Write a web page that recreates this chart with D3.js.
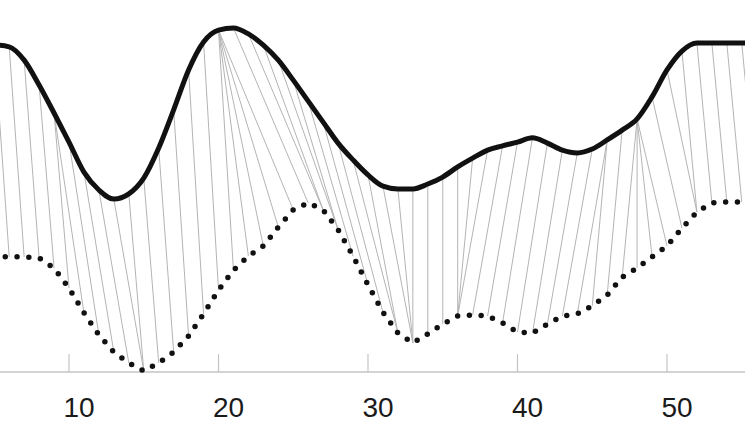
<!DOCTYPE html>
<html>
<head>
<meta charset="utf-8">
<script src="https://cdn.jsdelivr.net/npm/d3@7"></script>
<style>
  html, body { margin: 0; padding: 0; background: #fff; }
  svg { display: block; }
</style>
</head>
<body>
<svg id="chart" width="745" height="433"></svg>
<script>
// Time index (shared by both series)
const timeIndex = d3.range(1, 57);

// Upper series (solid line)
const upperValues = [
  9.34, 9.34, 9.34, 9.34, 9.34, 9.29, 8.91, 8.20, 7.40, 6.57,
  5.71, 5.20, 4.94, 5.09, 5.54, 6.40, 7.49, 8.63, 9.43, 9.77,
  9.83, 9.66, 9.34, 8.91, 8.34, 7.74, 7.14, 6.54, 6.06, 5.63,
  5.31, 5.23, 5.23, 5.37, 5.57, 5.86, 6.11, 6.34, 6.46, 6.57,
  6.69, 6.54, 6.34, 6.26, 6.37, 6.63, 6.91, 7.23, 7.86, 8.63,
  9.17, 9.40, 9.40, 9.40, 9.40, 9.40
];

// Lower series (dotted line)
const lowerValues = [
  3.29, 3.29, 3.29, 3.29, 3.29, 3.29, 3.29, 3.26, 2.97, 2.40,
  1.69, 1.06, 0.57, 0.26, 0.03, 0.26, 0.57, 1.03, 1.66, 2.34,
  2.91, 3.31, 3.60, 4.14, 4.63, 4.83, 4.63, 4.06, 3.31, 2.49,
  1.71, 1.11, 0.83, 1.09, 1.37, 1.60, 1.63, 1.60, 1.40, 1.14,
  1.11, 1.37, 1.60, 1.66, 1.89, 2.20, 2.71, 2.97, 3.29, 3.60,
  4.11, 4.57, 4.83, 4.86, 4.86, 4.86
];

// Warping path: matched index of upper series and of lower series
const pathUpper = [1,2,3,4,5,5,6,7,8,9,9,10,11,12,13,14,15,16,17,18,19,20,20,20,20,20,21,22,23,24,25,26,27,28,29,30,31,32,33,34,35,36,37,38,39,40,41,42,43,44,45,46,46,47,48,48,48,48,49,50,51,52,53,54,55,56];
const pathLower = [1,2,3,4,5,6,7,8,9,10,11,12,13,14,15,15,16,17,18,19,20,21,22,23,24,25,26,27,27,28,28,29,30,31,32,32,33,33,33,34,35,36,36,36,37,38,39,40,41,42,43,44,45,46,47,48,49,50,51,52,52,53,54,55,56,56];

// Axis ticks
const tickValues = [10, 20, 30, 40, 50];

const svg = d3.select("#chart");
const x = d3.scaleLinear().domain([10, 50]).range([69, 667]);
const y = d3.scaleLinear().domain([0, 10]).range([372, 22]);

const upper = timeIndex.map((t, i) => ({ t, v: upperValues[i] }));
const lower = timeIndex.map((t, i) => ({ t, v: lowerValues[i] }));

// Matching lines
svg.append("g")
  .selectAll("line")
  .data(pathUpper.map((u, k) => [u - 1, pathLower[k] - 1]))
  .join("line")
  .attr("x1", d => x(upper[d[0]].t))
  .attr("y1", d => y(upper[d[0]].v))
  .attr("x2", d => x(lower[d[1]].t))
  .attr("y2", d => y(lower[d[1]].v))
  .attr("stroke", "#b4b4b4")
  .attr("stroke-width", 1);

// Axis
const fmt = d3.format("d");
const gAxis = svg.append("g").attr("transform", "translate(0,372)");
gAxis.append("line")
  .attr("x1", 0).attr("x2", 745)
  .attr("stroke", "#a8a8a8").attr("stroke-width", 1.2);
gAxis.selectAll("line.tick")
  .data(tickValues)
  .join("line")
  .attr("class", "tick")
  .attr("x1", d => x(d)).attr("x2", d => x(d))
  .attr("y1", -18).attr("y2", 0)
  .attr("stroke", "#c4c4c4").attr("stroke-width", 1.2);
gAxis.selectAll("text.lbl")
  .data(tickValues)
  .join("text")
  .attr("class", "lbl")
  .attr("x", d => x(d) + 10)
  .attr("y", 45)
  .attr("text-anchor", "middle")
  .attr("font-family", "'Liberation Sans', Arial, Helvetica, sans-serif")
  .attr("font-size", 28)
  .attr("fill", "#1a1a1a")
  .text(d => fmt(d));

// Lower dotted series
const line = d3.line().x(d => x(d.t)).y(d => y(d.v));
svg.append("path")
  .datum(lower)
  .attr("d", line)
  .attr("fill", "none")
  .attr("stroke", "#111")
  .attr("stroke-width", 5.5)
  .attr("stroke-linecap", "round")
  .attr("stroke-dasharray", "0 11.8");

// Upper solid series
const smooth = d3.line().curve(d3.curveMonotoneX).x(d => x(d.t)).y(d => y(d.v));
svg.append("path")
  .datum(upper)
  .attr("d", smooth)
  .attr("fill", "none")
  .attr("stroke", "#111")
  .attr("stroke-width", 5)
  .attr("stroke-linejoin", "round")
  .attr("stroke-linecap", "round");
</script>
</body>
</html>
